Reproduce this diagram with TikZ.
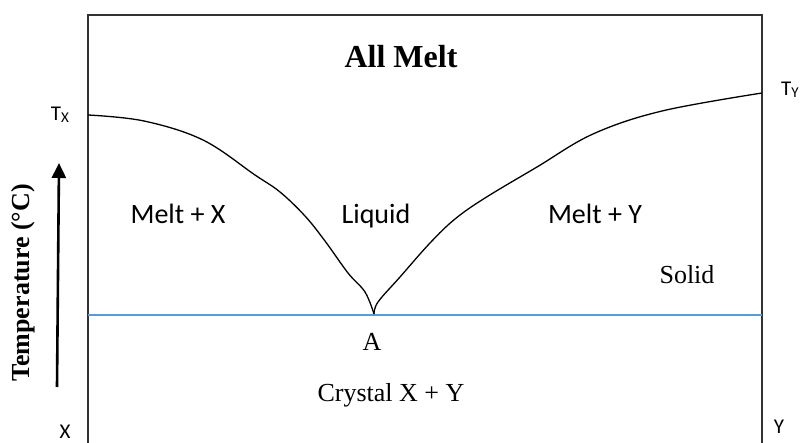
\documentclass[tikz,border=0pt]{standalone}
\usepackage{fontspec}
\usepackage{tikz}
\usetikzlibrary{arrows.meta,positioning}
\newfontfamily\calibfont{Carlito}
\newfontfamily\timesfont{Liberation Serif}
\definecolor{eutblue}{RGB}{91,155,213}
\definecolor{eutframe}{RGB}{50,50,50}
\newcommand{\phaselabel}[3]{%
  \node[#1] (#2) {#3};
}
\begin{document}
\begin{tikzpicture}[x=1pt,y=-1pt,
    framel/.style={draw=eutframe,line width=2pt},
    calib/.style={font=\calibfont\fontsize{28}{32}\selectfont,inner sep=0pt,anchor=base},
    tnr/.style={font=\timesfont\fontsize{26}{30}\selectfont,inner sep=0pt},
    endlbl/.style={font=\calibfont\fontsize{21}{24}\selectfont,inner sep=0pt}]
  \useasboundingbox (0,0) rectangle (800,443);
  % frame
  \coordinate (bl) at (88,443);
  \coordinate (tl) at (88,15);
  \coordinate (tr) at (762,15);
  \coordinate (br) at (762,443);
  \draw[framel] (bl) -- (tl) -- (tr) -- (br);
  % eutectic line
  \coordinate (eL) at (88,315);
  \coordinate (eR) at (762,315);
  \draw[eutblue,line width=1.5pt] (eL) -- (eR);
  % liquidus curves
  \draw[black,line width=1.3pt] plot[smooth,tension=.6] coordinates {
    (88,115) (144,121) (203,140) (255,175) (280,192)
    (305,216) (325,241) (348,273) (365,292) (374,314)};
  \draw[black,line width=1.3pt] plot[smooth,tension=.6] coordinates {
    (374,314) (378,302) (400,277) (430,243) (455,219) (485,198) (537,167)
    (593,134) (662,111) (762,93)};
  % labels
  \phaselabel{font=\timesfont\bfseries\fontsize{32}{36}\selectfont,inner sep=0pt,at={(401,57)}}{allmelt}{All Melt}
  \phaselabel{calib,at={(178,224)}}{meltx}{Melt + X}
  \phaselabel{calib,at={(376,224)}}{liquid}{Liquid}
  \phaselabel{calib,at={(595,224)}}{melty}{Melt + Y}
  \phaselabel{tnr,at={(687,275)}}{solid}{Solid}
  \phaselabel{tnr,at={(372,342)}}{ptA}{A}
  \phaselabel{tnr,at={(391,395)}}{crystal}{Crystal X + Y}
  \node[endlbl] (tx) at (60,115) {T\raisebox{-2pt}{\fontsize{15}{17}\selectfont X}};
  \node[endlbl] (ty) at (790,90) {T\raisebox{-2pt}{\fontsize{15}{17}\selectfont Y}};
  \node[endlbl] (xlbl) at (65,432) {X};
  \node[endlbl] (ylbl) at (779,427) {Y};
  % temperature axis
  \node[rotate=90,font=\timesfont\bfseries\fontsize{26}{30}\selectfont,inner sep=0pt] (temp) at (23,283) {Temperature (\textdegree C)};
  \coordinate (arrlow) at (57,387);
  \coordinate (arrhigh) at (59,163);
  \draw[line width=2.6pt,-{Triangle[width=14pt,length=15pt]}] (arrlow) -- (arrhigh);
\end{tikzpicture}
\end{document}
